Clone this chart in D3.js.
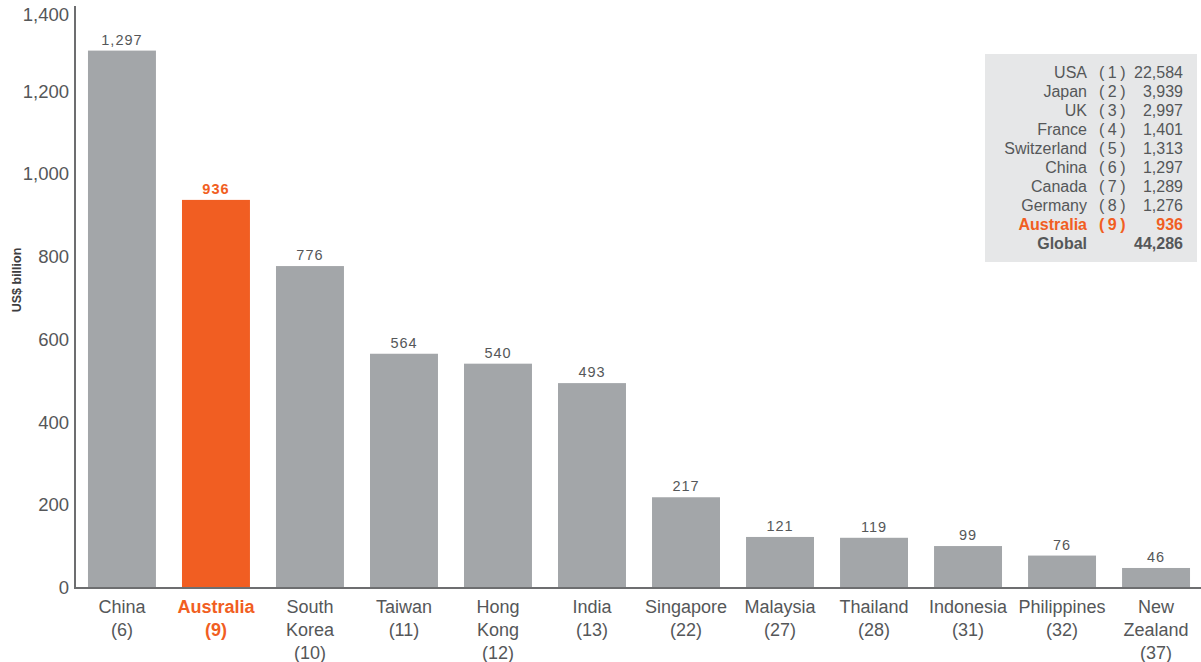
<!DOCTYPE html>
<html>
<head>
<meta charset="utf-8">
<script src="https://cdn.jsdelivr.net/npm/d3@7"></script>
<style>
  body { margin: 0; background: #fff; }
  svg { font-family: "Liberation Sans", Arial, sans-serif; }
</style>
</head>
<body>
<div id="chart"></div>
<script>
// data
var countries = ["China", "Australia", "South Korea", "Taiwan", "Hong Kong", "India",
  "Singapore", "Malaysia", "Thailand", "Indonesia", "Philippines", "New Zealand"];
var labelLines = [["China"], ["Australia"], ["South", "Korea"], ["Taiwan"], ["Hong", "Kong"], ["India"],
  ["Singapore"], ["Malaysia"], ["Thailand"], ["Indonesia"], ["Philippines"], ["New", "Zealand"]];
var ranks = [6, 9, 10, 11, 12, 13, 22, 27, 28, 31, 32, 37];
var values = [1297, 936, 776, 564, 540, 493, 217, 121, 119, 99, 76, 46];
var yTicks = [0, 200, 400, 600, 800, 1000, 1200, 1400];

var legendNames = ["USA", "Japan", "UK", "France", "Switzerland", "China", "Canada", "Germany", "Australia", "Global"];
var legendRanks = [1, 2, 3, 4, 5, 6, 7, 8, 9, null];
var legendValues = [22584, 3939, 2997, 1401, 1313, 1297, 1289, 1276, 936, 44286];

var highlight = "Australia";
var grey = "#a3a6a9";
var orange = "#f15e22";
var textCol = "#555759";

var width = 1201, height = 662;

var svg = d3.select("#chart").append("svg")
  .attr("width", width)
  .attr("height", height);

// scales
var x = d3.scaleBand()
  .domain(countries)
  .range([75, 1203])
  .paddingInner(0.277)
  .paddingOuter(0.138);

var y = d3.scaleLinear().domain([0, 1400]).range([587, 8]);

var fmt = d3.format(",");

// bars
svg.selectAll(".bar")
  .data(countries)
  .join("rect")
  .attr("class", "bar")
  .attr("x", d => x(d))
  .attr("y", (d, i) => y(values[i]))
  .attr("width", x.bandwidth())
  .attr("height", (d, i) => y(0) - y(values[i]))
  .attr("fill", d => d === highlight ? orange : grey);

// value labels
svg.selectAll(".val")
  .data(countries)
  .join("text")
  .attr("class", "val")
  .attr("x", d => x(d) + x.bandwidth() / 2)
  .attr("y", (d, i) => y(values[i]) - 6)
  .attr("text-anchor", "middle")
  .attr("font-size", 14.5)
  .attr("letter-spacing", 1)
  .attr("font-weight", d => d === highlight ? "bold" : "normal")
  .attr("fill", d => d === highlight ? orange : textCol)
  .text((d, i) => fmt(values[i]));

// y axis
var yAxis = d3.axisLeft(y).tickValues(yTicks).tickFormat(fmt).tickSize(0).tickPadding(6);
var gy = svg.append("g").attr("transform", "translate(75,0)").call(yAxis);
gy.select(".domain").remove();
gy.selectAll("text")
  .attr("font-size", 18.5)
  .attr("font-family", "Liberation Sans, Arial, sans-serif")
  .attr("fill", textCol)
  .attr("dy", d => d === 1400 ? "0.7em" : "0.35em"); // top label sits a bit lower

svg.append("line")
  .attr("x1", 75).attr("x2", 75)
  .attr("y1", 6).attr("y2", y(0) + 1)
  .attr("stroke", "#6d6e70").attr("stroke-width", 2);

// x baseline
svg.append("line")
  .attr("x1", 74).attr("x2", 1201)
  .attr("y1", y(0) + 1).attr("y2", y(0) + 1)
  .attr("stroke", "#6d6e70").attr("stroke-width", 2);

// y title
svg.append("text")
  .attr("transform", "translate(21,280) rotate(-90)")
  .attr("text-anchor", "middle")
  .attr("font-size", 12.5)
  .attr("font-weight", "bold")
  .attr("fill", "#3d3d3f")
  .text("US$ billion");

// x labels
var xl = svg.selectAll(".xlab")
  .data(countries)
  .join("text")
  .attr("class", "xlab")
  .attr("text-anchor", "middle")
  .attr("font-size", 18)
  .attr("font-weight", d => d === highlight ? "bold" : "normal")
  .attr("fill", d => d === highlight ? orange : textCol);

xl.each(function (d, i) {
  var t = d3.select(this);
  var cx = x(d) + x.bandwidth() / 2;
  var lines = labelLines[i].concat(["(" + ranks[i] + ")"]);
  lines.forEach(function (l, j) {
    t.append("tspan")
      .attr("x", cx)
      .attr("y", 613 + j * 23)
      .text(l);
  });
});

// legend box
var lg = svg.append("g");
lg.append("rect")
  .attr("x", 985).attr("y", 54)
  .attr("width", 212).attr("height", 208)
  .attr("fill", "#e6e7e8");

legendNames.forEach(function (n, i) {
  var yy = 77.5 + i * 19;
  var isHi = n === highlight;
  var bold = isHi || n === "Global";
  var col = isHi ? orange : textCol;
  lg.append("text")
    .attr("x", 1087).attr("y", yy)
    .attr("text-anchor", "end")
    .attr("font-size", 16)
    .attr("font-weight", bold ? "bold" : "normal")
    .attr("fill", col)
    .text(n);
  if (legendRanks[i] !== null) {
    lg.append("text")
      .attr("x", 1114).attr("y", yy)
      .attr("text-anchor", "middle")
      .attr("font-size", 16)
      .attr("letter-spacing", 3.5)
      .attr("font-weight", bold ? "bold" : "normal")
      .attr("fill", col)
      .text("(" + legendRanks[i] + ")");
  }
  lg.append("text")
    .attr("x", 1183).attr("y", yy)
    .attr("text-anchor", "end")
    .attr("font-size", 16)
    .attr("font-weight", bold ? "bold" : "normal")
    .attr("fill", col)
    .text(fmt(legendValues[i]));
});
</script>
</body>
</html>
